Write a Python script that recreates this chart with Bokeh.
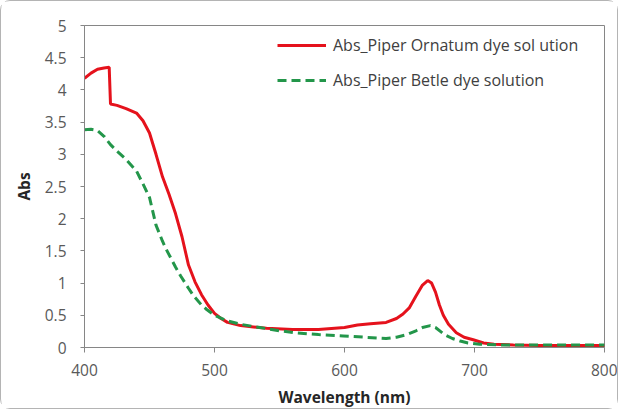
from bokeh.plotting import figure
from bokeh.models import Range1d, FixedTicker, Legend, LegendItem
from bokeh.embed import file_html
from bokeh.resources import INLINE

# ---- data ----
wl_ornatum = [400, 405, 410, 415, 419, 420, 425, 432, 440, 445, 450, 455, 460, 465,
              470, 475, 480, 485, 490, 495, 500, 505, 510, 520, 530, 540, 560, 580,
              600, 610, 620, 632, 640, 645, 650, 655, 660, 664, 667, 670, 673, 676,
              680, 686, 692, 699, 707, 715, 730, 750, 770, 800]
abs_ornatum = [4.18, 4.26, 4.32, 4.34, 4.35, 3.78, 3.76, 3.71, 3.64, 3.52, 3.33, 3.00,
               2.65, 2.38, 2.08, 1.72, 1.28, 1.02, 0.82, 0.66, 0.53, 0.45, 0.39, 0.34,
               0.32, 0.30, 0.28, 0.28, 0.31, 0.35, 0.37, 0.39, 0.45, 0.52, 0.62, 0.80,
               0.97, 1.04, 1.00, 0.86, 0.66, 0.50, 0.36, 0.23, 0.16, 0.12, 0.07, 0.05,
               0.04, 0.03, 0.03, 0.03]

wl_betle = [400, 405, 410, 415, 420, 425, 432, 440, 445, 450, 455, 460, 463, 470, 474,
            480, 484, 490, 494, 500, 509, 520, 535, 550, 561, 580, 599, 615, 632, 640,
            648, 655, 660, 666, 670, 677, 683, 689, 695, 704, 720, 760, 800]
abs_betle = [3.38, 3.39, 3.37, 3.28, 3.15, 3.05, 2.92, 2.74, 2.54, 2.33, 1.90, 1.65,
             1.52, 1.25, 1.11, 0.92, 0.80, 0.66, 0.59, 0.50, 0.42, 0.36, 0.31, 0.26,
             0.23, 0.20, 0.18, 0.16, 0.14, 0.16, 0.20, 0.26, 0.31, 0.34, 0.31, 0.20,
             0.14, 0.10, 0.07, 0.05, 0.04, 0.04, 0.04]

x_ticks = [400, 500, 600, 700, 800]
y_ticks = [0, 0.5, 1, 1.5, 2, 2.5, 3, 3.5, 4, 4.5, 5]
label_ornatum = "Abs_Piper Ornatum dye sol ution"
label_betle = "Abs_Piper Betle dye solution"

FONT = "Open Sans"
AXIS_GRAY = "#868686"

p = figure(width=618, height=409, output_backend="svg", toolbar_location=None,
           x_range=Range1d(400, 800), y_range=Range1d(0, 5),
           min_border_left=83, min_border_top=24, min_border_right=15, min_border_bottom=62)
p.styles = {"border": "1px solid #b4b4b4", "border-radius": "10px"}

p.xgrid.visible = False
p.ygrid.visible = False
p.outline_line_color = AXIS_GRAY
p.outline_line_width = 1

r1 = p.line(wl_ornatum, abs_ornatum, line_color="#e5121c", line_width=3)
r2 = p.line(wl_betle, abs_betle, line_color="#23964a", line_width=3, line_dash="9 5")

for ax in (p.xaxis[0], p.yaxis[0]):
    ax.axis_line_color = AXIS_GRAY
    ax.major_tick_line_color = AXIS_GRAY
    ax.major_tick_in = 0
    ax.minor_tick_line_color = None
    ax.major_label_text_font = FONT
    ax.major_label_text_font_size = "15.5px"
    ax.major_label_text_color = "#595959"
    ax.axis_label_text_font = FONT
    ax.axis_label_text_font_style = "bold"
    ax.axis_label_text_font_size = "15.5px"
    ax.axis_label_text_color = "#262626"

p.xaxis.major_tick_out = 5
p.yaxis.major_tick_out = 4
p.xaxis.ticker = FixedTicker(ticks=x_ticks)
p.yaxis.ticker = FixedTicker(ticks=y_ticks)
p.xaxis.axis_label = "Wavelength (nm)"
p.yaxis.axis_label = "Abs"
p.xaxis.major_label_standoff = 11
p.yaxis.major_label_standoff = 14
p.xaxis.axis_label_standoff = 7
p.yaxis.axis_label_standoff = 7

legend = Legend(items=[LegendItem(label=label_ornatum, renderers=[r1]),
                       LegendItem(label=label_betle, renderers=[r2])],
                location=(193, 256), padding=0, margin=0, spacing=13,
                glyph_width=49, glyph_height=20, label_height=20, label_standoff=7,
                border_line_color=None, background_fill_alpha=0,
                label_text_font=FONT, label_text_font_size="16px",
                label_text_color="#404040")
p.add_layout(legend)

open("out.html", "w").write(file_html(p, INLINE))
